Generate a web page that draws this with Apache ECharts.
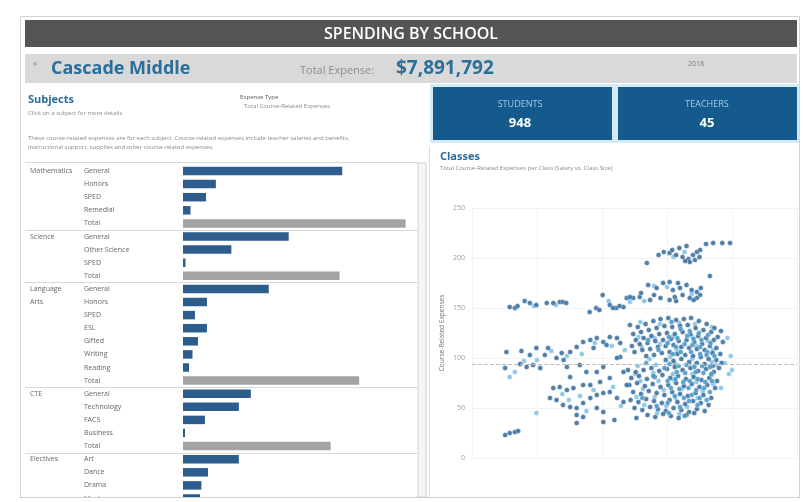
<!DOCTYPE html>
<html><head><meta charset="utf-8">
<script src="https://cdn.jsdelivr.net/npm/echarts@6/dist/echarts.min.js"></script>
<style>html,body{margin:0;padding:0;background:#fff}#c{width:803px;height:502px}</style>
</head><body><div id="c"></div>
<script>
// ---------- text ----------
const dashboardTitle = 'SPENDING BY SCHOOL';
const schoolName = 'Cascade Middle';
const totalExpenseLabel = 'Total Expense:';
const totalExpense = '$7,891,792';
const schoolYear = '2018';
const studentsLabel = 'STUDENTS';
const studentsCount = '948';
const teachersLabel = 'TEACHERS';
const teachersCount = '45';

// ---------- subjects bar data (expenses, $K) ----------
const groupNames = ['Mathematics', 'Science', 'Language Arts', 'CTE', 'Electives'];
const mathSubjects = ['General', 'Honors', 'SPED', 'Remedial', 'Total'];
const mathExpenses = [1357, 280, 196, 64, 1897];
const scienceSubjects = ['General', 'Other Science', 'SPED', 'Total'];
const scienceExpenses = [901, 412, 21, 1334];
const langSubjects = ['General', 'Honors', 'SPED', 'ESL', 'Gifted', 'Writing', 'Reading', 'Total'];
const langExpenses = [731, 204, 102, 204, 128, 81, 51, 1501];
const cteSubjects = ['General', 'Technology', 'FACS', 'Business', 'Total'];
const cteExpenses = [578, 476, 187, 17, 1258];
const electiveSubjects = ['Art', 'Dance', 'Drama', 'Music'];
const electiveExpenses = [476, 213, 157, 145];

// ---------- classes scatter data [class size, expense per student] ----------
const scatterYTicks = [0, 50, 100, 150, 200, 250];
const averageExpense = 94;
const darkClasses = [
[26.9,195],[28.7,203],[29.5,206],[30.4,205],[31.4,203],[32.4,201],[33.3,199],[34.0,203],[34.6,206],[35.0,201],[34.3,198],[33.5,196],[32.8,197],[35.1,208],[36.0,214],[37.1,215],[38.5,215],[39.7,215],[36.6,182],[31.9,210],[33.0,212],[30.8,208],
[27.1,173],[28.4,170],[29.4,175],[30.4,176],[31.7,175],[33.0,173],[34.6,166],[35.1,163],[29.0,160],[30.4,158],[31.4,157],[32.4,163],[33.5,160],[34.6,160],[25.8,161],[24.8,160],[27.4,158],[26.0,165],[28.0,163],[30.9,168],[32.0,170],[33.8,168],[35.2,170],[34.1,158],[31.2,161],
[5.8,151],[6.6,150],[8.1,157],[8.9,155],[9.9,153],[11.5,155],[12.5,155],[13.5,156],[14.0,156],[14.5,155],[7.0,152],
[18.1,146],[19.1,150],[20.1,163],[21.2,153],[22.2,150],[23.3,151],[23.8,160],[24.3,161],[21.7,150],[22.7,152],[19.6,148],
[24.3,133],[25.5,131],[26.7,134],[27.9,137],[29.0,139],[30.2,140],[31.4,138],[32.6,139],[33.7,140],[34.9,137],[36.1,134],[37.3,130],[38.3,127],
[24.8,124],[26.0,126],[27.2,128],[28.4,130],[29.6,132],[30.8,131],[32.0,132],[33.2,133],[34.4,130],[35.6,128],[36.8,126],[37.8,121],
[25.2,118],[26.4,120],[27.6,122],[28.8,124],[30.0,125],[31.2,124],[32.4,126],[33.6,124],[34.8,122],[36.0,120],[37.2,118],[38.6,116],
[24.6,112],[25.8,114],[27.0,115],[28.2,117],[29.4,118],[30.6,119],[31.8,117],[33.0,118],[34.2,116],[35.4,114],[36.6,112],[37.6,110],
[25.0,106],[26.2,108],[27.4,109],[28.6,111],[29.8,112],[31.0,113],[32.2,111],[33.4,110],[34.6,109],[35.8,108],[37.0,105],[38.2,104],
[26.8,102],[28.0,103],[29.2,105],[30.4,106],[31.6,104],[32.8,103],[34.0,102],[35.2,101],[36.4,99],[37.6,98],[29.8,98],[31.0,97],[32.2,99],[33.4,96],[34.6,95],[35.8,94],[37.0,92],[38.4,95],
[24.0,88],[25.2,86],[26.4,88],[27.6,90],[28.8,87],[30.0,89],[31.2,91],[32.4,88],[33.6,90],[34.8,87],[36.0,89],[37.2,86],[38.0,90],
[24.5,80],[25.7,82],[26.9,79],[28.1,81],[29.3,83],[30.5,80],[31.7,82],[32.9,79],[34.1,81],[35.3,78],[36.5,80],[37.7,77],
[24.2,73],[25.4,75],[26.6,72],[27.8,74],[29.0,71],[30.2,73],[31.4,75],[32.6,72],[33.8,74],[35.0,71],[36.2,73],[37.4,70],
[24.8,66],[26.0,64],[27.2,67],[28.4,65],[29.6,63],[30.8,66],[32.0,64],[33.2,62],[34.4,65],[35.6,63],[36.8,60],
[24.4,58],[25.6,56],[26.8,59],[28.0,57],[29.2,55],[30.4,58],[31.6,56],[32.8,54],[34.0,57],[35.2,55],[36.4,53],
[25.0,50],[26.2,48],[27.4,51],[28.6,49],[29.8,47],[31.0,50],[32.2,48],[33.4,46],[34.6,49],[35.8,47],
[27.0,43],[28.2,41],[29.4,44],[30.6,42],[31.8,40],[33.0,43],[34.2,45],
[5.3,106],[7.6,107],[9.9,110],[11.7,110],[7.4,94],[8.4,91],[9.4,93],[10.5,90],[13.0,100],[14.1,98],[14.6,91],[15.1,106],[16.1,111],[17.1,116],[18.2,118],[19.2,120],[20.2,116],[21.2,121],[22.3,120],[22.8,115],[18.7,110],[20.7,113],[22.8,101],[16.6,93],[17.6,86],[15.1,81],[22.3,100],[11.2,103],[13.8,105],[8.9,103],
[12.5,70],[13.5,71],[14.6,68],[15.6,70],[12.0,60],[13.0,58],[14.0,53],[15.1,51],[16.1,50],[17.1,55],[18.2,60],[19.2,63],[20.2,65],[21.2,66],[22.3,60],[23.3,56],[19.2,50],[20.2,46],[16.1,43],[17.1,41],[20.2,36],[21.9,38],[25.3,40],[16.1,35],[18.2,73],[19.7,76],[21.2,80],[17.1,73],[19.2,86],[20.2,91],[23.8,73],[23.3,86],
[5.1,90],[5.1,23],[5.8,25],[6.6,26],[7.1,27]
];
const midClasses = [
[30.7,136],[32.1,129],[33.5,127],[34.9,125],[36.3,123],[30.3,121],[31.6,120],[33.1,122],[34.1,119],[35.3,118],[36.7,115],
[30.1,115],[31.4,111],[32.7,114],[33.9,113],[35.1,111],[36.2,106],[37.3,102],[30.9,104],[32.1,106],[33.7,106],[35.1,104],[36.1,103],
[30.4,94],[31.8,92],[33.0,93],[34.2,91],[35.4,92],[36.6,91],[29.6,90],[32.8,85],[34.4,86],[35.6,85],[36.8,84],[31.5,86],
[30.1,77],[31.3,79],[32.5,76],[33.5,77],[34.7,79],[35.9,76],[36.9,77],[30.6,70],[31.9,69],[33.3,70],[34.5,68],[35.7,70],[36.6,66],
[31.2,62],[32.6,60],[33.8,63],[35.0,60],[36.1,58],[30.1,55],[33.4,57],[34.7,53],[32.0,51],[30.3,45],[32.7,42],
[26.8,95],[27.9,82],[26.2,60],[28.4,52],[27.1,118],[28.7,108]
];
const lightClasses = [
[25.9,136],[28.9,134],[31.9,135],[34.3,134],[36.9,131],[25.6,121],[28.1,120],[30.9,121],[33.9,121],[36.3,117],[26.1,111],[28.9,114],[31.5,108],[34.5,112],[37.1,108],
[27.3,99],[30.5,101],[33.9,99],[36.9,96],[25.5,92],[28.3,93],[31.3,94],[34.3,93],[37.5,93],[25.1,84],[27.9,85],[30.9,84],[33.9,84],[36.9,83],
[25.9,77],[28.7,77],[31.1,78],[34.5,76],[37.1,74],[26.3,69],[29.5,68],[32.3,69],[35.5,67],[25.3,61],[28.1,61],[31.3,60],[34.7,60],[26.5,53],[29.9,52],[33.1,51],[28.5,45],[31.9,44],
[8.0,97],[10.0,98],[12.2,107],[14.6,102],[16.9,104],[18.9,115],[21.5,112],[23.5,108],[6.6,86],[5.8,81],[9.9,45],[13.9,64],[16.6,62],[18.7,68],[21.7,71],[22.9,52],[17.6,47],[14.9,58],
[28.0,172],[30.0,171],[33.8,164],[26.5,157],[32.7,206],[31.0,201],[24.3,156],[21.0,157],[9.5,152],[12.9,153],
[39.3,120],[40.0,88],[39.5,84],[38.9,95],[38.3,70],[39.8,102]
];

// ---------- build ----------
const FONT = "'Open Sans', 'Noto Sans', sans-serif";
const BLUE = '#2c5d8c', GRAY = '#a3a3a3', TITLE_BLUE = '#2a6e9c';
const blocks = [
  [groupNames[0], mathSubjects, mathExpenses],
  [groupNames[1], scienceSubjects, scienceExpenses],
  [groupNames[2], langSubjects, langExpenses],
  [groupNames[3], cteSubjects, cteExpenses],
  [groupNames[4], electiveSubjects, electiveExpenses]
];
const rowKeys = [], rowSub = [], rowGroupLabel = [], rowValues = [], groupStarts = [];
blocks.forEach(([g, subs, vals]) => {
  groupStarts.push(rowKeys.length);
  const words = (g.length > 10 && g.indexOf(' ') > 0) ? g.split(' ') : [g];
  subs.forEach((s, i) => {
    rowKeys.push(g + '|' + s);
    rowSub.push(s);
    rowGroupLabel.push(words[i] || '');
    rowValues.push({ value: vals[i], itemStyle: { color: s === 'Total' ? GRAY : BLUE } });
  });
});
const ROW_PITCH = 13.1;

const chart = echarts.init(document.getElementById('c'));
chart.setOption({
  animation: false,
  backgroundColor: '#ffffff',
  textStyle: { fontFamily: FONT },
  grid: [
    { left: 183, top: 171 - ROW_PITCH / 2, width: 230, height: ROW_PITCH * rowKeys.length, outerBoundsMode: 'none', containLabel: false },
    { left: 472, top: 208, width: 325, height: 250, outerBoundsMode: 'none', containLabel: false }
  ],
  xAxis: [
    { gridIndex: 0, type: 'value', min: 0, max: 1960, show: false },
    { gridIndex: 1, type: 'value', min: 0, max: 50, interval: 10,
      axisLabel: { show: false }, axisLine: { show: false }, axisTick: { show: false },
      splitLine: { lineStyle: { color: '#f3f3f3' } } }
  ],
  yAxis: [
    { gridIndex: 0, type: 'category', data: rowKeys, inverse: true,
      axisLine: { show: false }, axisTick: { show: false },
      axisLabel: { interval: 0, align: 'left', margin: 99, fontSize: 7, color: '#666',
        formatter: (v, i) => rowSub[i] } },
    { gridIndex: 0, type: 'category', data: rowKeys, inverse: true, position: 'left',
      axisLine: { show: false }, axisTick: { show: false },
      axisLabel: { interval: 0, align: 'left', margin: 153, fontSize: 7, color: '#666',
        formatter: (v, i) => rowGroupLabel[i] } },
    { gridIndex: 1, type: 'value', min: scatterYTicks[0], max: scatterYTicks[scatterYTicks.length - 1], interval: scatterYTicks[1] - scatterYTicks[0],
      axisLine: { show: false }, axisTick: { show: false },
      axisLabel: { fontSize: 7, color: '#a0a0a0', margin: 7 },
      splitLine: { lineStyle: { color: '#f3f3f3' } },
      name: 'Course-Related Expenses', nameLocation: 'middle', nameGap: 26, nameRotate: 90,
      nameTextStyle: { fontSize: 6.5, color: '#777' } }
  ],
  series: [
    { type: 'bar', xAxisIndex: 0, yAxisIndex: 0, data: rowValues, barWidth: 8.5, silent: true },
    { type: 'scatter', xAxisIndex: 1, yAxisIndex: 2, data: lightClasses, symbolSize: 5,
      itemStyle: { color: '#7cc0e2', opacity: 0.85, borderColor: '#ffffff', borderWidth: 0.4 } },
    { type: 'scatter', xAxisIndex: 1, yAxisIndex: 2, data: darkClasses, symbolSize: 5,
      itemStyle: { color: '#2f679a', opacity: 0.85, borderColor: '#ffffff', borderWidth: 0.4 },
      markLine: { silent: true, symbol: 'none', label: { show: false },
        lineStyle: { type: 'dashed', color: '#bdbdbd', width: 1 },
        data: [{ yAxis: averageExpense }] } },
    { type: 'scatter', xAxisIndex: 1, yAxisIndex: 2, data: midClasses, symbolSize: 5,
      itemStyle: { color: '#3f93c4', opacity: 0.85, borderColor: '#ffffff', borderWidth: 0.4 } }
  ]
});

// group separators derived from the category axis
const c0 = chart.convertToPixel({ yAxisIndex: 0 }, rowKeys[0]);
const c1 = chart.convertToPixel({ yAxisIndex: 0 }, rowKeys[1]);
const pitch = c1 - c0;
const sepLines = groupStarts.slice(1).map(s => {
  const y = Math.round(chart.convertToPixel({ yAxisIndex: 0 }, rowKeys[s]) - pitch / 2) + 0.5;
  return { type: 'line', z: 50, shape: { x1: 25, y1: y, x2: 418, y2: y }, style: { stroke: '#d9d9d9', lineWidth: 1 } };
});

const T = (x, y, text, size, color, weight, extra) => Object.assign({
  type: 'text', z: 60, x, y,
  style: Object.assign({ text, fontSize: size, fill: color, fontWeight: weight || 'normal', fontFamily: FONT, verticalAlign: 'middle' }, extra || {})
});

chart.setOption({
  graphic: [
    { type: 'rect', z: 1, shape: { x: 20.5, y: 16.5, width: 779, height: 485 }, style: { fill: 'none', stroke: '#d4d4d4', lineWidth: 1 } },
    { type: 'rect', z: 40, shape: { x: 25, y: 20, width: 772, height: 27 }, style: { fill: '#555555' } },
    T(411, 34, dashboardTitle, 16, '#ffffff', 600, { align: 'center' }),
    { type: 'rect', z: 40, shape: { x: 25, y: 54, width: 772, height: 29 }, style: { fill: '#d9d9d9' } },
    T(33, 63, '«', 9, '#8a8a8a'),
    T(51, 69, schoolName, 18, TITLE_BLUE, 700),
    T(300, 71, totalExpenseLabel, 11, '#8c8c8c'),
    T(396, 69, totalExpense, 19, TITLE_BLUE, 700),
    T(688, 64, schoolYear, 7, '#7a7a7a'),
    T(28, 100, 'Subjects', 11, TITLE_BLUE, 700),
    T(28, 113, 'Click on a subject for more details', 6, '#8a8a8a'),
    T(240, 97, 'Expense Type', 6, '#555'),
    T(244, 106, 'Total Course-Related Expenses', 6, '#8a8a8a'),
    T(28, 138, 'These course-related expenses are for each subject. Course-related expenses include teacher salaries and benefits,', 6, '#8a8a8a'),
    T(28, 147, 'instructional support, supplies and other course-related expenses.', 6, '#8a8a8a'),
    { type: 'line', z: 50, shape: { x1: 25, y1: 162.5, x2: 418, y2: 162.5 }, style: { stroke: '#d9d9d9', lineWidth: 1 } },
    { type: 'rect', z: 45, shape: { x: 418, y: 163, width: 8, height: 334 }, style: { fill: '#f5f5f5', stroke: '#d0d0d0', lineWidth: 1 } },
    ...sepLines,
    { type: 'rect', z: 40, shape: { x: 430, y: 84, width: 369, height: 59 }, style: { fill: '#d6e9f6' } },
    { type: 'rect', z: 41, shape: { x: 433, y: 87, width: 179, height: 53 }, style: { fill: '#145a8d' } },
    { type: 'rect', z: 41, shape: { x: 618, y: 87, width: 179, height: 53 }, style: { fill: '#145a8d' } },
    T(520, 104, studentsLabel, 9, '#a8c8e6', 'normal', { align: 'center' }),
    T(520, 123, studentsCount, 13, '#ffffff', 700, { align: 'center' }),
    T(707, 104, teachersLabel, 9, '#a8c8e6', 'normal', { align: 'center' }),
    T(707, 123, teachersCount, 13, '#ffffff', 700, { align: 'center' }),
    { type: 'line', z: 50, shape: { x1: 429.5, y1: 146, x2: 429.5, y2: 497 }, style: { stroke: '#e0e0e0', lineWidth: 1 } },
    T(440, 157, 'Classes', 11, TITLE_BLUE, 700),
    T(440, 168, 'Total Course-Related Expenses per Class (Salary vs. Class Size)', 6, '#8a8a8a'),
    { type: 'rect', z: 90, shape: { x: 0, y: 497, width: 803, height: 5 }, style: { fill: '#ffffff' } },
    { type: 'line', z: 91, shape: { x1: 20, y1: 497.5, x2: 800, y2: 497.5 }, style: { stroke: '#cfcfcf', lineWidth: 1 } }
  ]
});
</script>
</body></html>
